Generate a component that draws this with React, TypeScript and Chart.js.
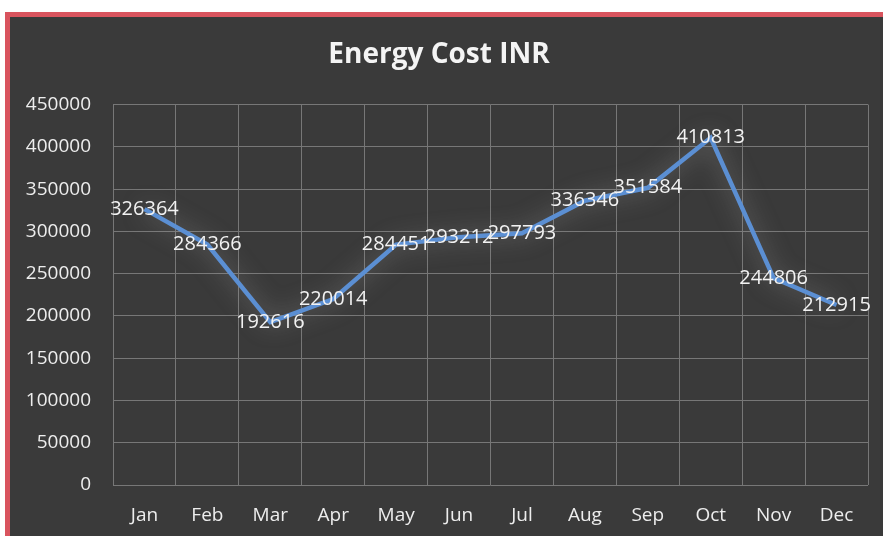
import React, { useEffect, useRef } from "react";
import { Chart, registerables } from "chart.js";

Chart.register(...registerables);

const months = ["Jan", "Feb", "Mar", "Apr", "May", "Jun", "Jul", "Aug", "Sep", "Oct", "Nov", "Dec"];
const energyCost = [326364, 284366, 192616, 220014, 284451, 293212, 297793, 336346, 351584, 410813, 244806, 212915];
const yMin = 0;
const yMax = 450000;
const yStep = 50000;

const FONT = "'Open Sans', 'Noto Sans', sans-serif";

const framePlugin = {
  id: "frame",
  beforeDraw(chart: any) {
    const { ctx, width, height } = chart;
    ctx.save();
    ctx.fillStyle = "#ffffff";
    ctx.fillRect(0, 0, width, height);
    ctx.fillStyle = "#d9545e";
    ctx.fillRect(5, 12, width - 5, height - 12);
    ctx.fillStyle = "#3a3a3a";
    ctx.fillRect(10, 17, width - 10, height - 17);
    ctx.restore();
  },
};

const glowPlugin = {
  id: "glow",
  beforeDatasetDraw(chart: any) {
    const ctx = chart.ctx;
    ctx.save();
    ctx.shadowColor = "rgba(190,190,190,0.55)";
    ctx.shadowBlur = 22;
  },
  afterDatasetDraw(chart: any) {
    chart.ctx.restore();
  },
};

const labelPlugin = {
  id: "pointLabels",
  afterDatasetsDraw(chart: any) {
    const ctx = chart.ctx;
    const meta = chart.getDatasetMeta(0);
    const data = chart.data.datasets[0].data as number[];
    ctx.save();
    ctx.font = `20px ${FONT}`;
    ctx.fillStyle = "#f2f2f2";
    ctx.textAlign = "center";
    ctx.textBaseline = "middle";
    meta.data.forEach((pt: any, i: number) => {
      ctx.fillText(String(data[i]), pt.x, pt.y);
    });
    ctx.restore();
  },
};

export default function App() {
  const ref = useRef<HTMLCanvasElement | null>(null);

  useEffect(() => {
    document.body.style.margin = "0";
    if (!ref.current) return;
    const chart = new Chart(ref.current, {
      type: "line",
      data: {
        labels: months,
        datasets: [
          {
            data: energyCost,
            borderColor: "#5b8fd3",
            borderWidth: 4.5,
            pointRadius: 0,
            tension: 0,
            fill: false,
          },
        ],
      },
      options: {
        animation: false,
        responsive: false,
        layout: { padding: { left: 10, right: 15, top: 17, bottom: 0 } },
        plugins: {
          legend: { display: false },
          tooltip: { enabled: false },
          title: {
            display: true,
            text: "Energy Cost INR",
            color: "#f4f4f4",
            font: { family: FONT, size: 28, weight: "bold" },
            padding: { top: 21, bottom: 33 },
          },
        },
        scales: {
          x: {
            offset: true,
            grid: { offset: true, color: "#777777", lineWidth: 1, drawTicks: false },
            border: { display: false },
            ticks: { color: "#ededed", font: { family: FONT, size: 19 }, padding: 19 },
            afterFit(scale: any) {
              scale.height = 51;
            },
          },
          y: {
            min: yMin,
            max: yMax,
            grid: { color: "#777777", lineWidth: 1, drawTicks: false },
            border: { display: false },
            ticks: {
              stepSize: yStep,
              color: "#ededed",
              font: { family: FONT, size: 19 },
              padding: 22,
              callback: (v: any) => String(v),
            },
            afterFit(scale: any) {
              scale.width = 103;
            },
          },
        },
      },
      plugins: [framePlugin, glowPlugin, labelPlugin],
    });
    return () => chart.destroy();
  }, []);

  return <canvas ref={ref} width={883} height={536} style={{ display: "block" }} />;
}
